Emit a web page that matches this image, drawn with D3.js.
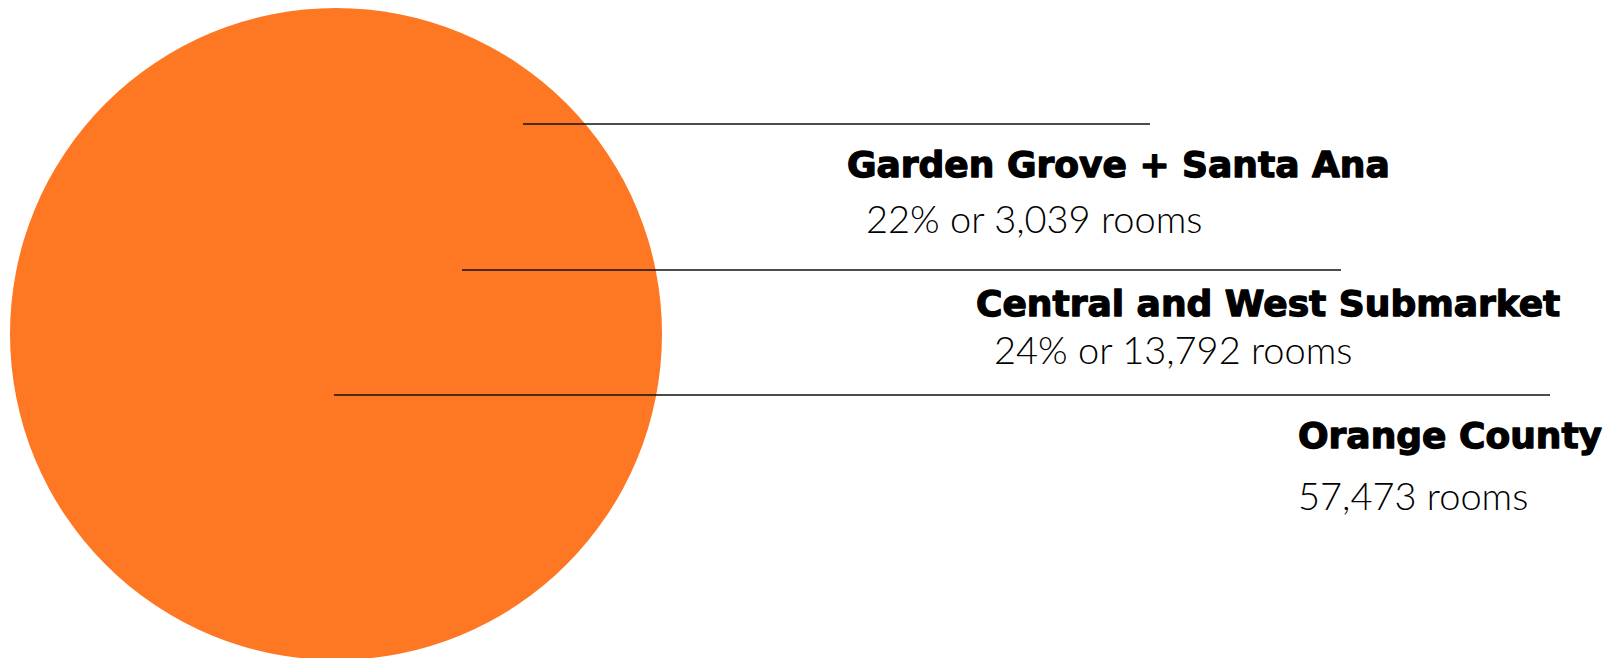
<!DOCTYPE html>
<html>
<head>
<meta charset="utf-8">
<script src="https://cdn.jsdelivr.net/npm/d3@7"></script>
<style>
  html, body { margin: 0; padding: 0; background: #fff; }
  svg { display: block; }
  .name { font-family: "DejaVu Sans", sans-serif; font-weight: bold; font-size: 36px; fill: #000; stroke: #000; stroke-width: 1.3px; stroke-linejoin: round; }
  .sub { font-family: "Lato", sans-serif; font-weight: 300; font-size: 38px; fill: #000; }
</style>
</head>
<body>
<div id="chart"></div>
<script>
// Hotel rooms by area
const regions = ["Garden Grove + Santa Ana", "Central and West Submarket", "Orange County"];
const shares = ["22%", "24%", null];
const rooms = [3039, 13792, 57473];

const width = 1606, height = 658;

// leader line + label layout
const lineY = [124, 270, 395];
const lineX0 = [523, 462, 334];
const lineX1 = [1150, 1341, 1550];
const nameX = [847, 976, 1298];
const nameY = [177, 316, 448];
const subX = [866, 994, 1298];
const subY = [233, 364, 510];

const fmt = d3.format(",");

const svg = d3.select("#chart").append("svg")
  .attr("width", width)
  .attr("height", height);

// circle area ~ total rooms
const r = d3.scaleSqrt().domain([0, d3.max(rooms)]).range([0, 326]);
const cx = 336, cy = 334;

svg.append("circle")
  .attr("cx", cx).attr("cy", cy)
  .attr("r", r(rooms[2]))
  .attr("fill", "#fe7723");

regions.forEach((name, i) => {
  svg.append("line")
    .attr("x1", lineX0[i]).attr("y1", lineY[i])
    .attr("x2", lineX1[i]).attr("y2", lineY[i])
    .attr("stroke", "#111")
    .attr("stroke-width", 1.4);

  svg.append("text")
    .attr("class", "name")
    .attr("x", nameX[i]).attr("y", nameY[i])
    .text(name);

  const sub = shares[i] ? `${shares[i]} or ${fmt(rooms[i])} rooms` : `${fmt(rooms[i])} rooms`;
  svg.append("text")
    .attr("class", "sub")
    .attr("x", subX[i]).attr("y", subY[i])
    .text(sub);
});
</script>
</body>
</html>
